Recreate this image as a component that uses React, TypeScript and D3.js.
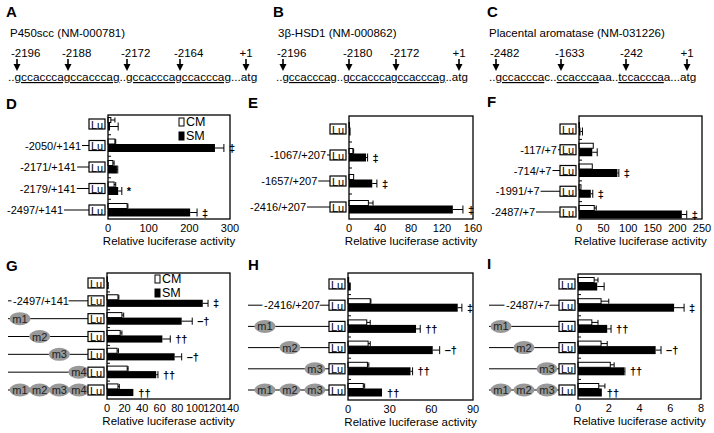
import * as d3 from 'd3';
import React from 'react';

const FONT = '"Liberation Sans", Arial, Helvetica, sans-serif';

// ---- A-C: motifs in the promoters
const aTitle = 'P450scc (NM-000781)';
const aSites = ['-2196', '-2188', '-2172', '-2164', '+1'];
const aSeq = ['..', 'gccacccagccacccag', '..', 'gccacccagccacccag', '...atg'];

const bTitle = '3β-HSD1 (NM-000862)';
const bSites = ['-2196', '-2180', '-2172', '+1'];
const bSeq = ['..', 'gccacccag', '..', 'gccacccagccacccag', '..atg'];

const cTitle = 'Placental aromatase (NM-031226)';
const cSites = ['-2482', '-1633', '-242', '+1'];
const cSeq = ['..', 'gccaccca', 'c..', 'ccaccca', 'aa..', 'tccaccca', 'a...atg'];

// ---- D-F: deletion constructs ('' = empty Lu vector)
const dConstructs = ['', '-2050/+141', '-2171/+141', '-2179/+141', '-2497/+141'];
const dCM = [7, 17, 12, 15, 47];
const dCMsd = [10, 2, 3, 4, 2];
const dSM = [5, 263, 22, 25, 202];
const dSMsd = [20, 22, 2, 9, 17];
const dSig = ['', '‡', '', '*', '‡'];

const eConstructs = ['', '-1067/+207', '-1657/+207', '-2416/+207'];
const eCM = [0.5, 5, 6, 25];
const eCMsd = [0, 1, 0.5, 6];
const eSM = [2, 22, 30, 134];
const eSMsd = [0, 2, 6, 13];
const eSig = ['', '‡', '‡', '‡'];

const fConstructs = ['', '-117/+7', '-714/+7', '-1991/+7', '-2487/+7'];
const fCM = [1, 29, 27, 4, 31];
const fCMsd = [0, 1, 1, 1, 4];
const fSM = [3, 27, 78, 24, 209];
const fSMsd = [4, 10, 3, 4, 10];
const fSig = ['', '', '‡', '‡', '‡'];

// ---- G-I: site mutants (null = empty vector, [] = wild type)
const gWild = '-2497/+141';
const gSites = ['m1', 'm2', 'm3', 'm4'];
const gMuts = [null, [], [0], [1], [2], [3], [0, 1, 2, 3]];
const gCM = [0.5, 12.5, 17, 15, 11.5, 23, 12.5];
const gCMsd = [0, 1, 2, 2, 1.5, 1, 1.5];
const gSM = [2, 109, 85, 63, 77, 56, 30];
const gSMsd = [0, 6, 12, 9, 8, 2, 0];
const gSig = ['', '‡', '–†', '††', '–†', '††', '††'];

const hWild = '-2416/+207';
const hSites = ['m1', 'm2', 'm3'];
const hMuts = [null, [], [0], [1], [2], [0, 1, 2]];
const hCM = [0.5, 16, 13.5, 14.5, 14, 11];
const hCMsd = [0, 0.5, 2.5, 1.5, 1, 1];
const hSM = [2, 79, 49, 61, 45, 24.5];
const hSMsd = [0, 3, 3, 5, 1.5, 0];
const hSig = ['', '‡', '††', '–†', '††', '††'];

const iWild = '-2487/+7';
const iSites = ['m1', 'm2', 'm3'];
const iMuts = [null, [], [0], [1], [2], [0, 1, 2]];
const iCM = [1.05, 1.5, 0.9, 1.5, 2.1, 1.35];
const iCMsd = [0.25, 0.5, 0.4, 0.4, 0.25, 0.4];
const iSM = [1.25, 6.25, 1.9, 5.05, 3.0, 1.55];
const iSMsd = [0.45, 0.65, 0.25, 0.35, 0.05, 0];
const iSig = ['', '‡', '††', '–†', '††', '††'];

const legendNames = ['CM', 'SM'];
const axisTitle = 'Relative luciferase activity';

type Frame = { l: number; r: number; t: number; b: number };
type LabelFn = (i: number, cy: number, boxL: number) => React.ReactNode;

function MotifPanel(props: {
  letter: string; letterX: number; titleX: number; title: string;
  sites: string[]; arrowX: number[]; seq: string[]; seqX: number; seqSize: number;
}) {
  const p = props;
  return (
    <g>
      <text x={p.letterX} y={17} fontSize={15} fontWeight="bold">{p.letter}</text>
      <text x={p.titleX} y={37} fontSize={11.5}>{p.title}</text>
      {p.sites.map((s, i) => {
        const ax = p.arrowX[i];
        return (
          <g key={s}>
            <text x={s === '+1' ? ax : ax - 6} y={57} fontSize={11.5}
              textAnchor={s === '+1' ? 'middle' : 'start'}>{s}</text>
            <line x1={ax} x2={ax} y1={59} y2={66} stroke="#000" strokeWidth={1.6} />
            <path d={`M${ax - 3.5},64L${ax + 3.5},64L${ax},71Z`} fill="#000" />
          </g>
        );
      })}
      <text x={p.seqX} y={81} fontSize={p.seqSize}>
        {p.seq.map((s, i) => (
          <tspan key={i} style={{ textDecoration: i % 2 ? 'underline' : 'none' }}>{s}</tspan>
        ))}
      </text>
    </g>
  );
}

// deletion constructs: the line to Lu is longer for longer promoters
function deletionLabels(constructs: string[], lenRange: [number, number]): LabelFn {
  const starts = constructs.map(c => (c ? Math.abs(parseInt(c, 10)) : NaN));
  const len = d3.scaleLinear()
    .domain(d3.extent(starts.filter(s => !isNaN(s))) as [number, number])
    .range(lenRange);
  return (i, cy, boxL) => {
    if (!constructs[i]) return null;
    const x0 = boxL - len(starts[i]);
    return (
      <g>
        <line x1={x0} x2={boxL} y1={cy} y2={cy} stroke="#000" strokeWidth={1} />
        <text x={x0 - 1} y={cy} textAnchor="end" dominantBaseline="central" fontSize={11}>
          {constructs[i]}
        </text>
      </g>
    );
  };
}

function mutantLabels(wild: string, sites: string[], muts: (number[] | null)[],
  lineX0: number, siteRange: [number, number], wildX: number): LabelFn {
  const sx = d3.scalePoint<number>().domain(d3.range(sites.length)).range(siteRange);
  return (i, cy, boxL) => {
    const m = muts[i];
    if (m === null) return null;
    return (
      <g>
        <line x1={lineX0} x2={boxL} y1={cy} y2={cy} stroke="#000" strokeWidth={1} />
        {m.length === 0 ? (
          <text x={wildX} y={cy} dominantBaseline="central" fontSize={11}
            stroke="#fff" strokeWidth={4} paintOrder="stroke">{wild}</text>
        ) : m.map(k => (
          <g key={k}>
            <ellipse cx={sx(k)} cy={cy} rx={10.5} ry={6.5} fill="#999" />
            <text x={sx(k)} y={cy} textAnchor="middle" dominantBaseline="central"
              fontSize={11} fill="#222">{sites[k]}</text>
          </g>
        ))}
      </g>
    );
  };
}

function ErrBar({ x0, x1, y, h }: { x0: number; x1: number; y: number; h: number }) {
  if (x1 - x0 < 0.5) return null;
  return (
    <g stroke="#000" strokeWidth={1}>
      <line x1={x0} x2={x1} y1={y} y2={y} />
      <line x1={x1} x2={x1} y1={y - h / 2} y2={y + h / 2} />
    </g>
  );
}

function BarPanel(p: {
  letter: string; letterX: number; letterY: number; frame: Frame;
  rowSpan: [number, number]; domain: [number, number]; ticks: number[];
  cm: number[]; cmSd: number[]; sm: number[]; smSd: number[]; sig: string[];
  legend?: [number, number]; label: LabelFn;
}) {
  const f = p.frame;
  const x = d3.scaleLinear().domain(p.domain).range([f.l, f.r]);
  const n = p.cm.length;
  const y = d3.scalePoint<number>().domain(d3.range(n)).range(p.rowSpan);
  const cmH = 5;
  const smH = Math.min(8, y.step() * 0.4);
  const boxW = 16, boxH = 10;
  const boxL = f.l - 3 - boxW;
  const mids = d3.range(n - 1).map(i => (y(i)! + y(i + 1)!) / 2);
  return (
    <g>
      <text x={p.letterX} y={p.letterY} fontSize={15} fontWeight="bold">{p.letter}</text>
      {d3.range(n).map(i => {
        const cy = y(i)!;
        const top = cy - (cmH + smH) / 2;
        const smY = top + cmH;
        const smEnd = x(p.sm[i] + p.smSd[i]);
        return (
          <g key={i}>
            {p.label(i, cy, boxL)}
            <rect x={boxL} y={cy - boxH / 2} width={boxW} height={boxH} fill="#fff"
              stroke="#000" strokeWidth={1.2} />
            <text x={boxL + boxW / 2} y={cy + 0.5} textAnchor="middle" dominantBaseline="central"
              fontSize={11}>Lu</text>
            <rect x={x(0)} y={top} width={x(p.cm[i]) - x(0)} height={cmH} fill="#fff"
              stroke="#000" strokeWidth={1} />
            <ErrBar x0={x(p.cm[i])} x1={x(p.cm[i] + p.cmSd[i])} y={top + cmH / 2} h={cmH} />
            <rect x={x(0)} y={smY} width={x(p.sm[i]) - x(0)} height={smH} fill="#000" />
            <ErrBar x0={x(p.sm[i])} x1={smEnd} y={smY + smH / 2} h={smH} />
            {p.sig[i] && (
              <text x={smEnd + 5} y={smY + smH / 2} dominantBaseline="central" fontSize={11}
                fontWeight="bold">
                {p.sig[i]}
              </text>
            )}
          </g>
        );
      })}
      <rect x={f.l} y={f.t} width={f.r - f.l} height={f.b - f.t} fill="none" stroke="#000"
        strokeWidth={1.3} />
      {mids.map((m, i) => (
        <line key={i} x1={f.l} x2={f.l + 3} y1={m} y2={m} stroke="#000" strokeWidth={1} />
      ))}
      {p.ticks.map(t => (
        <text key={t} x={x(t)} y={f.b + 13} textAnchor="middle" fontSize={11}>{t}</text>
      ))}
      <text x={(f.l + f.r) / 2} y={f.b + 26} textAnchor="middle" fontSize={11.5}>{axisTitle}</text>
      {p.legend && legendNames.map((name, k) => (
        <g key={name} transform={`translate(${p.legend![0]},${p.legend![1] + k * 14})`}>
          <rect x={0} y={-4} width={5} height={8} fill={k ? '#000' : '#fff'} stroke="#000"
            strokeWidth={1} />
          <text x={7} y={0} dominantBaseline="central" fontSize={12.5}>{name}</text>
        </g>
      ))}
    </g>
  );
}

export default function App() {
  return (
    <svg width={714} height={433} style={{ position: 'absolute', left: 0, top: 0, background: '#fff' }}
      fontFamily={FONT} fill="#000">
      <MotifPanel letter="A" letterX={6} titleX={10} title={aTitle} sites={aSites}
        arrowX={[17, 68, 127, 180, 246]} seq={aSeq} seqX={8} seqSize={11.8} />
      <MotifPanel letter="B" letterX={273} titleX={278} title={bTitle} sites={bSites}
        arrowX={[283, 349, 396, 459]} seq={bSeq} seqX={276} seqSize={11.5} />
      <MotifPanel letter="C" letterX={487} titleX={489} title={cTitle} sites={cSites}
        arrowX={[496, 561, 626, 687]} seq={cSeq} seqX={489} seqSize={11.7} />

      <BarPanel letter="D" letterX={6} letterY={109} frame={{ l: 108, r: 230, t: 115, b: 219 }}
        rowSpan={[124, 210]} domain={[0, 300]} ticks={[0, 100, 200, 300]}
        cm={dCM} cmSd={dCMsd} sm={dSM} smSd={dSMsd} sig={dSig} legend={[179, 122]}
        label={deletionLabels(dConstructs, [7, 25])} />
      <BarPanel letter="E" letterX={248} letterY={108} frame={{ l: 349, r: 473, t: 116, b: 219 }}
        rowSpan={[129, 207]} domain={[0, 160]} ticks={[0, 40, 80, 120, 160]}
        cm={eCM} cmSd={eCMsd} sm={eSM} smSd={eSMsd} sig={eSig}
        label={deletionLabels(eConstructs, [3, 23])} />
      <BarPanel letter="F" letterX={487} letterY={107} frame={{ l: 579, r: 702, t: 116, b: 219 }}
        rowSpan={[129, 212]} domain={[0, 250]} ticks={[0, 50, 100, 150, 200, 250]}
        cm={fCM} cmSd={fCMsd} sm={fSM} smSd={fSMsd} sig={fSig}
        label={deletionLabels(fConstructs, [2, 24])} />

      <BarPanel letter="G" letterX={6} letterY={271} frame={{ l: 107, r: 230, t: 273, b: 399 }}
        rowSpan={[283, 390]} domain={[0, 140]} ticks={d3.range(0, 141, 20)}
        cm={gCM} cmSd={gCMsd} sm={gSM} smSd={gSMsd} sig={gSig} legend={[155, 279]}
        label={mutantLabels(gWild, gSites, gMuts, 8, [20, 79], 13)} />
      <BarPanel letter="H" letterX={248} letterY={270} frame={{ l: 348, r: 473, t: 273, b: 400 }}
        rowSpan={[284, 390]} domain={[0, 90]} ticks={[0, 30, 60, 90]}
        cm={hCM} cmSd={hCMsd} sm={hSM} smSd={hSMsd} sig={hSig}
        label={mutantLabels(hWild, hSites, hMuts, 248, [265, 315], 264)} />
      <BarPanel letter="I" letterX={487} letterY={269} frame={{ l: 578, r: 701, t: 274, b: 399 }}
        rowSpan={[284, 390]} domain={[0, 8]} ticks={[0, 2, 4, 6, 8]}
        cm={iCM} cmSd={iCMsd} sm={iSM} smSd={iSMsd} sig={iSig}
        label={mutantLabels(iWild, iSites, iMuts, 489, [501, 547], 506)} />
    </svg>
  );
}
